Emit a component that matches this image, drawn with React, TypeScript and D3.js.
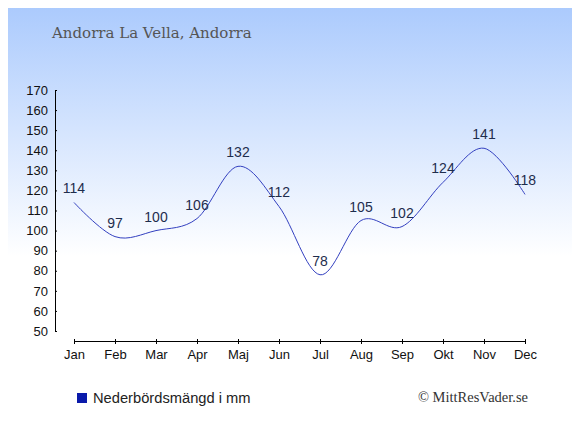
import { useEffect, useRef } from 'react';
import * as d3 from 'd3';

// Precipitation per month, Andorra La Vella
const months = ['Jan', 'Feb', 'Mar', 'Apr', 'Maj', 'Jun', 'Jul', 'Aug', 'Sep', 'Okt', 'Nov', 'Dec'];
const rain = [114, 97, 100, 106, 132, 112, 78, 105, 102, 124, 141, 118];
const yTicks = [50, 60, 70, 80, 90, 100, 110, 120, 130, 140, 150, 160, 170];

const W = 580;
const H = 435;

function App() {
  const ref = useRef<SVGSVGElement>(null);

  useEffect(() => {
    const svg = d3.select(ref.current);
    svg.selectAll('*').remove();

    // background
    const defs = svg.append('defs');
    const grad = defs.append('linearGradient')
      .attr('id', 'bg').attr('x1', 0).attr('y1', 0).attr('x2', 0).attr('y2', 1);
    grad.append('stop').attr('offset', '0%').attr('stop-color', '#a9c9fd');
    grad.append('stop').attr('offset', '59%').attr('stop-color', '#ffffff');
    grad.append('stop').attr('offset', '100%').attr('stop-color', '#ffffff');
    svg.append('rect').attr('x', 0.5).attr('y', 0.5).attr('width', W - 1).attr('height', H - 1)
      .attr('fill', 'url(#bg)').attr('stroke', '#b4b4b4');

    svg.append('text')
      .attr('x', 52).attr('y', 38)
      .attr('font-family', '"DejaVu Serif", serif')
      .attr('font-size', 15)
      .attr('fill', '#555')
      .text('Andorra La Vella, Andorra');

    // Scales
    const x = d3.scalePoint<string>().domain(months).range([74, 525]);
    const y = d3.scaleLinear().domain([50, 170]).range([331, 90]);

    // Y axis
    const yAxis = svg.append('g').attr('transform', 'translate(55,0)');
    yAxis.call(d3.axisLeft(y).tickValues(yTicks).tickSize(3).tickSizeOuter(0).tickPadding(4) as any);
    yAxis.select('.domain').attr('stroke', '#000');
    yAxis.selectAll('.tick line').attr('x2', 2).attr('stroke', '#000');
    yAxis.selectAll('.tick text')
      .attr('font-family', '"Liberation Sans", Arial, sans-serif')
      .attr('font-size', 13).attr('fill', '#111');

    // X axis
    const xAxis = svg.append('g').attr('transform', 'translate(0,341)');
    xAxis.call(d3.axisBottom(x).tickSize(3).tickSizeOuter(0).tickPadding(6) as any);
    xAxis.select('.domain').attr('stroke', '#000').attr('d', `M${x('Jan')},0.5H${x('Dec')}`);
    xAxis.selectAll('.tick line').attr('y1', -2).attr('stroke', '#000');
    xAxis.selectAll('.tick text')
      .attr('font-family', '"Liberation Sans", Arial, sans-serif')
      .attr('font-size', 13).attr('fill', '#111');

    // Line
    const line = d3.line<number>()
      .x((_, i) => x(months[i]) as number)
      .y((d) => y(d))
      .curve(d3.curveCardinal.tension(0));
    svg.append('path')
      .datum(rain)
      .attr('d', line)
      .attr('fill', 'none')
      .attr('stroke', '#3340c0')
      .attr('stroke-width', 1);

    // Value labels
    svg.append('g').selectAll('text').data(rain).enter().append('text')
      .attr('x', (_, i) => x(months[i]) as number)
      .attr('y', (d) => y(d) - 9)
      .attr('text-anchor', 'middle')
      .attr('font-family', '"Liberation Sans", Arial, sans-serif')
      .attr('font-size', 14)
      .attr('fill', '#1e2d4d')
      .text((d) => d);

    // Legend
    svg.append('rect').attr('x', 77).attr('y', 393).attr('width', 10).attr('height', 10).attr('fill', '#0a1aaa');
    svg.append('text')
      .attr('x', 93).attr('y', 403)
      .attr('font-family', '"Liberation Sans", Arial, sans-serif')
      .attr('font-size', 14.7).attr('fill', '#222')
      .text('Nederbördsmängd i mm');

    svg.append('text')
      .attr('x', 528).attr('y', 402)
      .attr('text-anchor', 'end')
      .attr('font-family', '"Liberation Serif", serif')
      .attr('font-size', 14.5).attr('fill', '#333')
      .text('© MittResVader.se');
  }, []);

  return (
    <div style={{ margin: -8 }}>
      <svg ref={ref} width={W} height={H} style={{ display: 'block' }} />
    </div>
  );
}

export default App;
